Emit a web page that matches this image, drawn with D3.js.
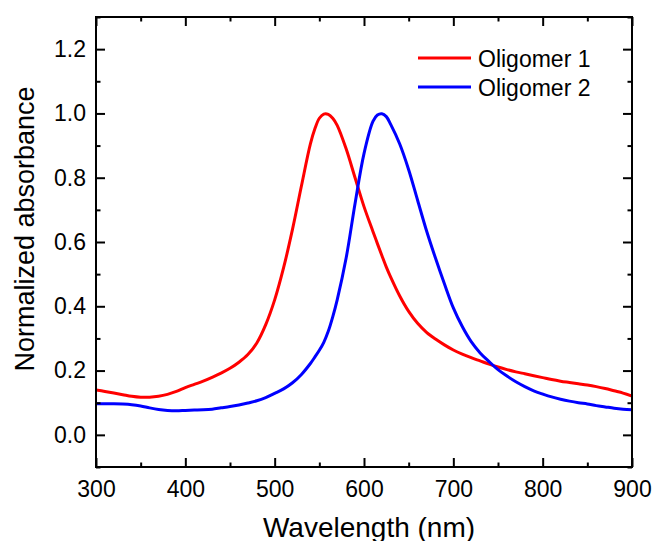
<!DOCTYPE html>
<html>
<head>
<meta charset="utf-8">
<script src="https://cdn.jsdelivr.net/npm/d3@7"></script>
<style>
  html, body { margin: 0; padding: 0; background: #fff; }
  svg { display: block; }
  text { font-family: Arial, "Liberation Sans", Helvetica, sans-serif; fill: #000; }
</style>
</head>
<body>
<svg id="chart" width="653" height="541"></svg>
<script>
// Wavelength grid (nm), denser around the two plasmon peaks
const wavelengths = [300,310,320,330,340,350,360,370,380,390,400,410,420,430,440,450,460,470,480,490,
  500,510,520,530,540,545,550,555,560,565,570,580,590,600,610,615,620,625,630,640,650,660,670,680,690,
  700,710,720,730,740,750,760,770,780,790,800,810,820,830,840,850,860,870,880,890,900];

// Normalized absorbance, Oligomer 1
const oligomer1 = [0.140,0.135,0.130,0.125,0.120,0.117,0.117,0.120,0.126,0.135,0.147,0.157,0.167,0.179,0.192,0.207,0.226,0.250,0.286,0.343,
  0.420,0.520,0.640,0.775,0.905,0.952,0.985,0.998,0.997,0.985,0.963,0.890,0.800,0.710,0.633,0.595,0.558,0.522,0.490,0.432,0.384,0.347,0.319,0.298,0.280,
  0.264,0.251,0.240,0.230,0.220,0.211,0.203,0.196,0.190,0.184,0.178,0.172,0.167,0.163,0.159,0.155,0.150,0.144,0.137,0.130,0.121];

// Normalized absorbance, Oligomer 2
const oligomer2 = [0.097,0.097,0.097,0.096,0.094,0.090,0.084,0.079,0.076,0.075,0.076,0.077,0.078,0.080,0.084,0.088,0.093,0.099,0.106,0.116,
  0.129,0.143,0.162,0.188,0.222,0.242,0.263,0.288,0.322,0.367,0.420,0.550,0.720,0.875,0.975,0.995,0.999,0.990,0.965,0.905,0.825,0.730,0.635,0.550,0.470,
  0.395,0.337,0.290,0.255,0.228,0.203,0.183,0.165,0.150,0.137,0.127,0.118,0.111,0.105,0.100,0.096,0.091,0.087,0.083,0.080,0.078];

const seriesNames = ["Oligomer 1", "Oligomer 2"];
const seriesColors = ["#ff0000", "#0000ff"];

const xTicks = [300, 400, 500, 600, 700, 800, 900];
const xMinorTicks = [350, 450, 550, 650, 750, 850];
const yTicks = [0.0, 0.2, 0.4, 0.6, 0.8, 1.0, 1.2];
const yMinorTicks = [-0.1, 0.1, 0.3, 0.5, 0.7, 0.9, 1.1, 1.3];

const margin = { left: 96, top: 17, right: 21, bottom: 74 };
const W = 653, H = 541;
const iw = W - margin.left - margin.right;
const ih = H - margin.top - margin.bottom;

const svg = d3.select("#chart");
const g = svg.append("g").attr("transform", `translate(${margin.left},${margin.top})`);

const x = d3.scaleLinear().domain([300, 900]).range([0, iw]);
const y = d3.scaleLinear().domain([-0.1, 1.3]).range([ih, 0]);

g.append("clipPath").attr("id", "plot-clip")
  .append("rect").attr("width", iw).attr("height", ih);

// Spectra
const line = d3.line()
  .x(d => x(d[0]))
  .y(d => y(d[1]))
  .curve(d3.curveCatmullRom.alpha(0.5));

[oligomer1, oligomer2].forEach((vals, i) => {
  g.append("path")
    .datum(wavelengths.map((w, j) => [w, vals[j]]))
    .attr("clip-path", "url(#plot-clip)")
    .attr("fill", "none")
    .attr("stroke", seriesColors[i])
    .attr("stroke-width", 3)
    .attr("stroke-linejoin", "round")
    .attr("d", line);
});

// Axes: ticks point inward on all four sides
const fmtY = d3.format(".1f");
const major = 9, minor = 4.5;

function styleAxis(sel) {
  sel.select(".domain").remove();
  sel.selectAll(".tick line").attr("stroke", "#000").attr("stroke-width", 2);
  sel.selectAll(".tick text").style("font-size", "23px").attr("fill", "#000");
}

// bottom
g.append("g").attr("transform", `translate(0,${ih})`)
  .call(d3.axisBottom(x).tickValues(xTicks).tickSize(-major).tickPadding(14).tickFormat(d3.format("d")))
  .call(styleAxis);
g.append("g").attr("transform", `translate(0,${ih})`)
  .call(d3.axisBottom(x).tickValues(xMinorTicks).tickSize(-minor).tickFormat(""))
  .call(styleAxis);
// top
g.append("g")
  .call(d3.axisTop(x).tickValues(xTicks).tickSize(-major).tickFormat(""))
  .call(styleAxis);
g.append("g")
  .call(d3.axisTop(x).tickValues(xMinorTicks).tickSize(-minor).tickFormat(""))
  .call(styleAxis);
// left
g.append("g")
  .call(d3.axisLeft(y).tickValues(yTicks).tickSize(-major).tickPadding(10).tickFormat(fmtY))
  .call(styleAxis);
g.append("g")
  .call(d3.axisLeft(y).tickValues(yMinorTicks).tickSize(-minor).tickFormat(""))
  .call(styleAxis);
// right
g.append("g").attr("transform", `translate(${iw},0)`)
  .call(d3.axisRight(y).tickValues(yTicks).tickSize(-major).tickFormat(""))
  .call(styleAxis);
g.append("g").attr("transform", `translate(${iw},0)`)
  .call(d3.axisRight(y).tickValues(yMinorTicks).tickSize(-minor).tickFormat(""))
  .call(styleAxis);

// Frame
g.append("rect")
  .attr("width", iw).attr("height", ih)
  .attr("fill", "none").attr("stroke", "#000").attr("stroke-width", 2);

// Axis titles
svg.append("text")
  .attr("x", 369).attr("y", 537)
  .attr("text-anchor", "middle")
  .style("font-size", "28px")
  .text("Wavelength (nm)");

svg.append("text")
  .attr("transform", "translate(34,229) rotate(-90)")
  .attr("text-anchor", "middle")
  .style("font-size", "27px")
  .text("Normalized absorbance");

// Legend
const legend = svg.append("g").attr("transform", "translate(418,58)");
seriesNames.forEach((name, i) => {
  const row = legend.append("g").attr("transform", `translate(0,${i * 29})`);
  row.append("line").attr("x1", 0).attr("x2", 53).attr("y1", 0).attr("y2", 0)
    .attr("stroke", seriesColors[i]).attr("stroke-width", 3);
  row.append("text").attr("x", 60).attr("y", 8.5)
    .style("font-size", "23px").text(name);
});
</script>
</body>
</html>
